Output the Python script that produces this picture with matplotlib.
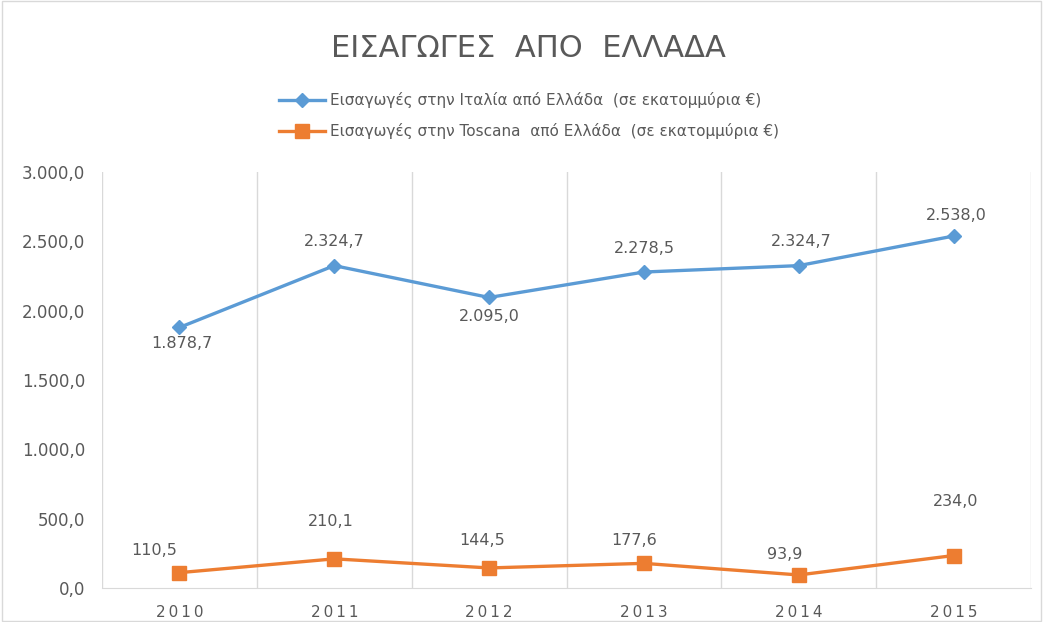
import matplotlib.pyplot as plt
import matplotlib
from matplotlib.patches import Rectangle

matplotlib.rcParams['font.family'] = ['DejaVu Sans', 'sans-serif']

years = ['2010', '2011', '2012', '2013', '2014', '2015']
italy = [1878.7, 2324.7, 2095.0, 2278.5, 2324.7, 2538.0]
toscana = [110.5, 210.1, 144.5, 177.6, 93.9, 234.0]
italy_label = 'Εισαγωγές στην Ιταλία από Ελλάδα  (σε εκατομμύρια €)'
toscana_label = 'Εισαγωγές στην Toscana  από Ελλάδα  (σε εκατομμύρια €)'
yticks = [0, 500, 1000, 1500, 2000, 2500, 3000]

BLUE = '#5B9BD5'
ORANGE = '#ED7D31'
GRAY = '#595959'

# label offsets in pixels (dx, dy), as placed in the original
italy_off = [(2, -16), (0, 24), (0, -19), (0, 24), (2, 24), (3, 21)]
toscana_off = [(-25, 22), (-3, 37), (-7, 27), (-10, 23), (-14, 20), (2, 54)]


def fmt(v):
    # greek number format: 2.324,7
    s = f'{v:,.1f}'
    return s.replace(',', 'X').replace('.', ',').replace('X', '.')


fig = plt.figure(figsize=(10.43, 6.22), dpi=100)
ax = fig.add_axes([0.0978, 0.0547, 0.8907, 0.6688])

x = range(len(years))
ax.plot(x, italy, color=BLUE, linewidth=2.4, marker='D', markersize=7.5,
        label=italy_label)
ax.plot(x, toscana, color=ORANGE, linewidth=2.4, marker='s', markersize=10,
        label=toscana_label)

# data labels
for i, (v, (dx, dy)) in enumerate(zip(italy, italy_off)):
    ax.annotate(fmt(v), (i, v), xytext=(dx * 0.72, dy * 0.72),
                textcoords='offset points', ha='center', va='center',
                fontsize=11.5, color=GRAY)
for i, (v, (dx, dy)) in enumerate(zip(toscana, toscana_off)):
    ax.annotate(fmt(v), (i, v), xytext=(dx * 0.72, dy * 0.72),
                textcoords='offset points', ha='center', va='center',
                fontsize=11.5, color=GRAY)

ax.set_xlim(-0.5, len(years) - 0.5)
ax.set_ylim(0, 3000)
ax.set_yticks(yticks)
ax.set_yticklabels([fmt(t) for t in yticks], fontsize=12, color=GRAY)
ax.set_xticks(list(x))
ax.set_xticklabels(['\u2009'.join(y) for y in years], fontsize=11, color=GRAY)

# vertical gridlines between categories
ax.set_xticks([i + 0.5 for i in range(len(years) - 1)], minor=True)
ax.grid(axis='x', which='minor', color='#D9D9D9', linewidth=1)
ax.tick_params(which='both', length=0, pad=12)
for side in ['top', 'right', 'left']:
    ax.spines[side].set_visible(False)
ax.spines['bottom'].set_color('#D9D9D9')
ax.axvline(-0.5, color='#D9D9D9', linewidth=1)
ax.axvline(len(years) - 0.5, color='#D9D9D9', linewidth=1)

fig.text(0.507, 0.922, 'ΕΙΣΑΓΩΓΕΣ  ΑΠΟ  ΕΛΛΑΔΑ', ha='center',
         va='center', fontsize=22, color=GRAY)
fig.legend(loc='center', bbox_to_anchor=(0.507, 0.814), ncol=1, frameon=False,
           fontsize=11, labelcolor=GRAY, handlelength=3.0, handletextpad=0.3,
           labelspacing=0.95)

fig.patches.append(Rectangle((0.002, 0.002), 0.996, 0.996,
                             transform=fig.transFigure, fill=False,
                             edgecolor='#D9D9D9', linewidth=1))

plt.savefig('out.png')
plt.close()
